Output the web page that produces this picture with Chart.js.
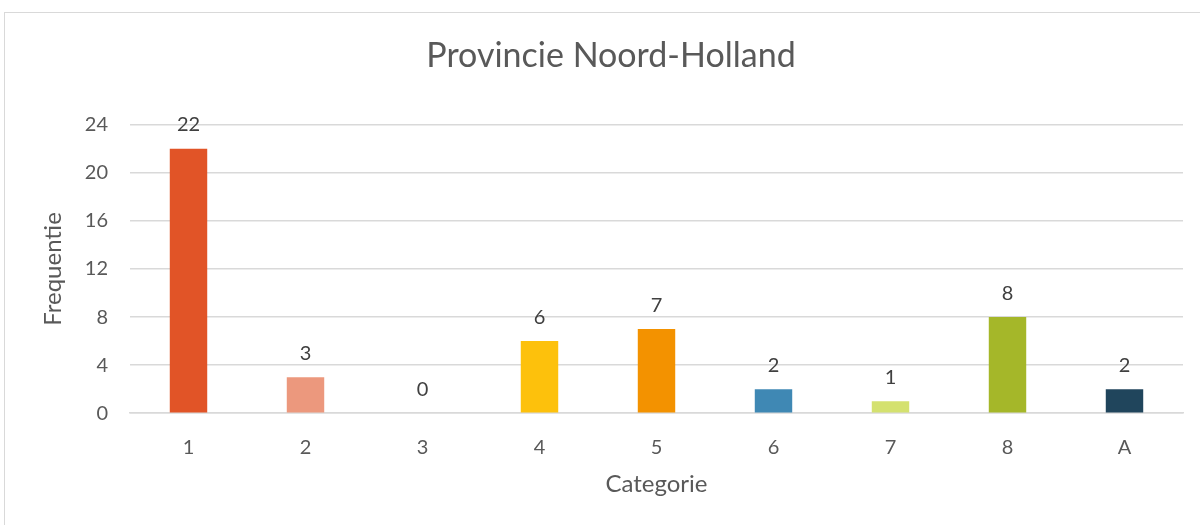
<!DOCTYPE html>
<html>
<head>
<meta charset="utf-8">
<script src="https://cdn.jsdelivr.net/npm/chart.js@4/dist/chart.umd.min.js"></script>
<style>
  body { margin: 0; background: #fff; }
  #wrap { position: relative; width: 1200px; height: 525px; }
  #frame { position: absolute; left: 4px; top: 12px; width: 1210px; height: 530px; border: 1px solid #d9d9d9; pointer-events: none; }
</style>
</head>
<body>
<div id="wrap">
  <canvas id="chart" width="1200" height="525"></canvas>
  <div id="frame"></div>
</div>
<script>
const categories = ['1', '2', '3', '4', '5', '6', '7', '8', 'A'];
const frequencies = [22, 3, 0, 6, 7, 2, 1, 8, 2];
const barColors = ['#E15427', '#EC987D', '#F7C3B0', '#FDC10C', '#F39200', '#3F88B4', '#D4E16F', '#A5B729', '#20455C'];
const yTicks = [0, 4, 8, 12, 16, 20, 24];

const textColor = '#595959';
const fontFamily = 'Lato, "Open Sans", sans-serif';

// draws the value above each bar
const valueLabels = {
    id: 'valueLabels',
    afterDatasetsDraw(chart) {
        const ctx = chart.ctx;
        const meta = chart.getDatasetMeta(0);
        ctx.save();
        ctx.font = '20px ' + fontFamily;
        ctx.fillStyle = '#404040';
        ctx.textAlign = 'center';
        ctx.textBaseline = 'middle';
        meta.data.forEach(function (bar, i) {
            ctx.fillText(String(frequencies[i]), bar.x, bar.y - 24);
        });
        ctx.restore();
    }
};

const ctx = document.getElementById('chart').getContext('2d');
new Chart(ctx, {
    type: 'bar',
    data: {
        labels: categories,
        datasets: [{
            label: 'Frequentie',
            data: frequencies,
            backgroundColor: barColors,
            barPercentage: 0.32,
            categoryPercentage: 1
        }]
    },
    options: {
        responsive: false,
        animation: false,
        layout: { padding: { top: 36, right: 17, bottom: 26, left: 39 } },
        plugins: {
            legend: { display: false },
            tooltip: { enabled: false },
            title: {
                display: true,
                text: 'Provincie Noord-Holland',
                color: textColor,
                font: { family: fontFamily, size: 34, weight: 'normal' },
                padding: { top: 0, bottom: 48 }
            }
        },
        scales: {
            x: {
                grid: { display: false, drawTicks: false },
                border: { display: true, color: '#d9d9d9', width: 1.5 },
                ticks: { color: textColor, font: { family: fontFamily, size: 20 }, padding: 22 },
                title: {
                    display: true,
                    text: 'Categorie',
                    color: textColor,
                    font: { family: fontFamily, size: 24 },
                    padding: { top: -11, bottom: 0 }
                }
            },
            y: {
                min: 0,
                max: 24,
                afterBuildTicks(scale) {
                    scale.ticks = yTicks.map(function (v) { return { value: v }; });
                },
                afterFit(scale) { scale.width = 91; },
                grid: { color: '#d9d9d9', lineWidth: 1.5, drawTicks: false },
                border: { display: false },
                ticks: { color: textColor, font: { family: fontFamily, size: 20 }, padding: 22 },
                title: {
                    display: true,
                    text: 'Frequentie',
                    color: textColor,
                    font: { family: fontFamily, size: 24 },
                    padding: { top: 0, bottom: 0 }
                }
            }
        }
    },
    plugins: [valueLabels]
});
</script>
</body>
</html>
